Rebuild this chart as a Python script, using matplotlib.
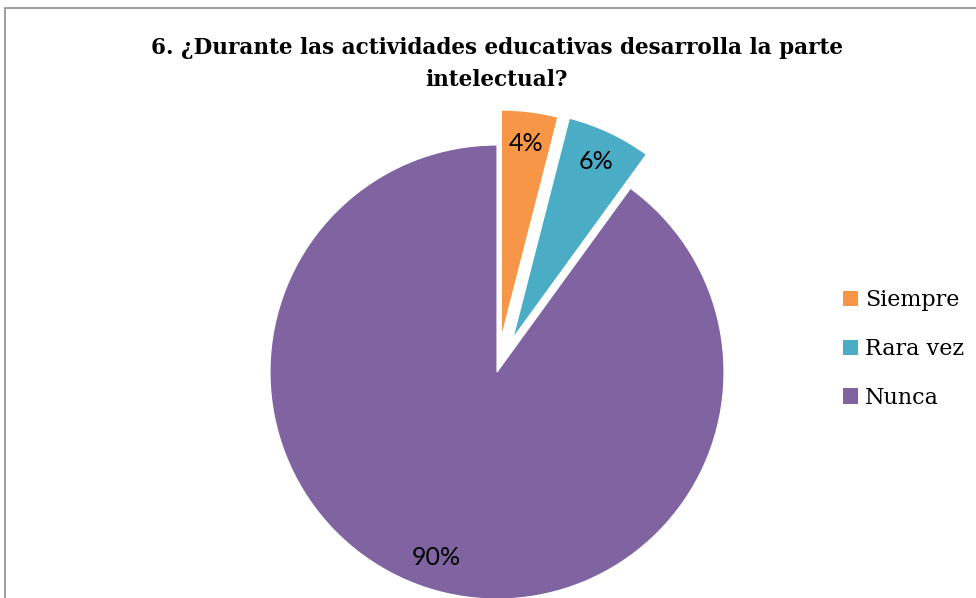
import matplotlib.pyplot as plt
from matplotlib.patches import Rectangle, Patch

categories = ['Siempre', 'Rara vez', 'Nunca']
values = [4, 6, 90]
colors = ['#F79646', '#4BACC6', '#8064A2']
explode = [0.155, 0.165, 0.0]
title = '6. ¿Durante las actividades educativas desarrolla la parte\nintelectual?'

W, H = 976, 598
fig = plt.figure(figsize=(W / 100, H / 100), dpi=100)

# chart frame (grey border, only top/left visible)
fig.patches.append(Rectangle((5 / W, -0.05), 1.2, 1 - 8 / H + 0.05,
                             transform=fig.transFigure, fill=False,
                             edgecolor='#8c8c8c', linewidth=1.2))

# pie axes: centre (497, 372), radius 227 px
cx, cy, r = 497, 372, 227
ax = fig.add_axes([(cx - r) / W, (H - cy - r) / H, 2 * r / W, 2 * r / H])
wedges, texts, autotexts = ax.pie(
    values, colors=colors, explode=explode, startangle=90, counterclock=False,
    autopct=lambda p: f'{p:.0f}%', pctdistance=0.86,
    wedgeprops=dict(edgecolor='white', linewidth=0.8),
    textprops=dict(family=['Lato', 'DejaVu Sans'], fontsize=18, color='black'))
for w in wedges:
    w.set_clip_on(False)
ax.set_xlim(-1, 1)
ax.set_ylim(-1, 1)
ax.set_aspect('auto')
ax.axis('off')

fig.text(497 / W, 1 - 64 / H, title, ha='center', va='center',
         fontsize=15.5, fontweight='bold', family='DejaVu Serif',
         linespacing=1.55)

handles = [Patch(facecolor=c, edgecolor='none') for c in colors]
fig.legend(handles, categories, loc='center left',
           bbox_to_anchor=(843 / W, 1 - 349 / H), frameon=False,
           prop=dict(family='DejaVu Serif', size=16),
           handlelength=0.68, handleheight=0.68, handletextpad=0.3,
           labelspacing=1.2, borderpad=0, borderaxespad=0)

fig.savefig('out.png', dpi=100)
